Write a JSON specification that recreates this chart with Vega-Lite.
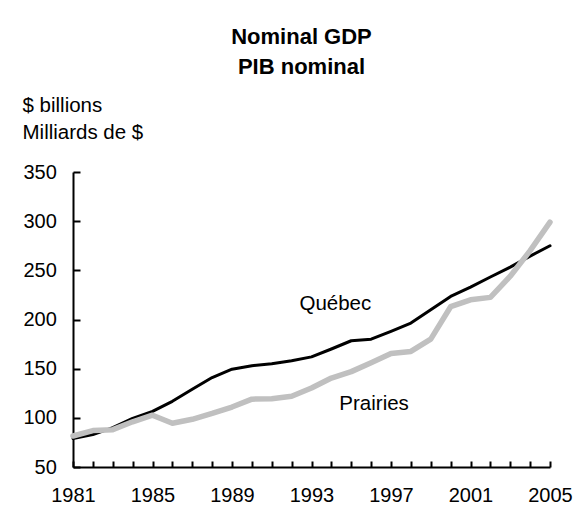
{
  "$schema": "https://vega.github.io/schema/vega-lite/v6.json",
  "width": 477,
  "height": 295,
  "autosize": {"type": "none"},
  "padding": {"left": 73, "top": 172, "right": 26, "bottom": 47},
  "background": "white",
  "config": {
    "view": {"stroke": null},
    "font": "Liberation Sans"
  },
  "title": {
    "text": ["Nominal GDP", "PIB nominal"],
    "font": "Liberation Sans",
    "fontSize": 22,
    "fontWeight": "bold",
    "lineHeight": 30,
    "anchor": "middle",
    "frame": "group",
    "dx": -10,
    "offset": 16,
    "color": "black"
  },
  "datasets": {
    "gdp": [
      {"year": 1981, "region": "Québec", "gdp": 79},
      {"year": 1982, "region": "Québec", "gdp": 83},
      {"year": 1983, "region": "Québec", "gdp": 90},
      {"year": 1984, "region": "Québec", "gdp": 99.5},
      {"year": 1985, "region": "Québec", "gdp": 106.5},
      {"year": 1986, "region": "Québec", "gdp": 116.8},
      {"year": 1987, "region": "Québec", "gdp": 129},
      {"year": 1988, "region": "Québec", "gdp": 141},
      {"year": 1989, "region": "Québec", "gdp": 149.5},
      {"year": 1990, "region": "Québec", "gdp": 153},
      {"year": 1991, "region": "Québec", "gdp": 155},
      {"year": 1992, "region": "Québec", "gdp": 158},
      {"year": 1993, "region": "Québec", "gdp": 162},
      {"year": 1994, "region": "Québec", "gdp": 170},
      {"year": 1995, "region": "Québec", "gdp": 178.4},
      {"year": 1996, "region": "Québec", "gdp": 180},
      {"year": 1997, "region": "Québec", "gdp": 188},
      {"year": 1998, "region": "Québec", "gdp": 196.4},
      {"year": 1999, "region": "Québec", "gdp": 210},
      {"year": 2000, "region": "Québec", "gdp": 223.5},
      {"year": 2001, "region": "Québec", "gdp": 233},
      {"year": 2002, "region": "Québec", "gdp": 243.2},
      {"year": 2003, "region": "Québec", "gdp": 253.3},
      {"year": 2004, "region": "Québec", "gdp": 264.5},
      {"year": 2005, "region": "Québec", "gdp": 275},
      {"year": 1981, "region": "Prairies", "gdp": 81.5},
      {"year": 1982, "region": "Prairies", "gdp": 87},
      {"year": 1983, "region": "Prairies", "gdp": 88},
      {"year": 1984, "region": "Prairies", "gdp": 96},
      {"year": 1985, "region": "Prairies", "gdp": 102.7},
      {"year": 1986, "region": "Prairies", "gdp": 94.5},
      {"year": 1987, "region": "Prairies", "gdp": 98.5},
      {"year": 1988, "region": "Prairies", "gdp": 104.5},
      {"year": 1989, "region": "Prairies", "gdp": 111},
      {"year": 1990, "region": "Prairies", "gdp": 119},
      {"year": 1991, "region": "Prairies", "gdp": 119.5},
      {"year": 1992, "region": "Prairies", "gdp": 122},
      {"year": 1993, "region": "Prairies", "gdp": 130.3},
      {"year": 1994, "region": "Prairies", "gdp": 140.5},
      {"year": 1995, "region": "Prairies", "gdp": 147},
      {"year": 1996, "region": "Prairies", "gdp": 156},
      {"year": 1997, "region": "Prairies", "gdp": 165.5},
      {"year": 1998, "region": "Prairies", "gdp": 167.5},
      {"year": 1999, "region": "Prairies", "gdp": 180},
      {"year": 2000, "region": "Prairies", "gdp": 213},
      {"year": 2001, "region": "Prairies", "gdp": 220},
      {"year": 2002, "region": "Prairies", "gdp": 222.5},
      {"year": 2003, "region": "Prairies", "gdp": 244},
      {"year": 2004, "region": "Prairies", "gdp": 270},
      {"year": 2005, "region": "Prairies", "gdp": 299}
    ],
    "labels": [
      {"year": 1994.2, "gdp": 210, "label": "Québec"},
      {"year": 1996.15, "gdp": 108.3, "label": "Prairies"}
    ]
  },
  "resolve": {"axis": {"x": "independent", "y": "independent"}},
  "layer": [
    {
      "data": {"name": "gdp"},
      "transform": [{"filter": "datum.region === 'Québec'"}],
      "mark": {"type": "line", "color": "black", "strokeWidth": 3, "strokeJoin": "round", "strokeCap": "round"},
      "encoding": {
        "x": {
          "field": "year",
          "type": "quantitative",
          "scale": {"domain": [1981, 2005], "nice": false, "zero": false},
          "axis": {
            "title": null,
            "grid": false,
            "ticks": false,
            "values": [1981, 1985, 1989, 1993, 1997, 2001, 2005],
            "format": "d",
            "labelOverlap": false,
            "labelFlush": false,
            "labelFont": "Liberation Sans",
            "labelFontSize": 20,
            "labelColor": "black",
            "labelPadding": 18.2,
            "domainColor": "black",
            "domainWidth": 2
          }
        },
        "y": {
          "field": "gdp",
          "type": "quantitative",
          "scale": {"domain": [50, 350], "nice": false, "zero": false},
          "axis": {
            "values": [50, 100, 150, 200, 250, 300, 350],
            "grid": false,
            "ticks": false,
            "title": ["$ billions", "Milliards de $"],
            "titleAngle": 0,
            "titleAlign": "left",
            "titleBaseline": "alphabetic",
            "titleX": -51,
            "titleY": -60.6,
            "titleFont": "Liberation Sans",
            "titleFontSize": 20.5,
            "titleFontWeight": "normal",
            "titleLineHeight": 26.7,
            "titleColor": "black",
            "labelFont": "Liberation Sans",
            "labelFontSize": 20,
            "labelColor": "black",
            "labelPadding": 16.7,
            "labelFlush": false,
            "domainColor": "black",
            "domainWidth": 2
          }
        }
      }
    },
    {
      "data": {"name": "gdp"},
      "transform": [{"filter": "datum.region === 'Prairies'"}],
      "mark": {"type": "line", "color": "#c0c0c0", "strokeWidth": 5.5, "strokeJoin": "round", "strokeCap": "round"},
      "encoding": {
        "x": {
          "field": "year",
          "type": "quantitative",
          "axis": {
            "orient": "top",
            "offset": -295,
            "title": null,
            "grid": false,
            "labels": false,
            "domain": false,
            "ticks": true,
            "values": [1981,1982,1983,1984,1985,1986,1987,1988,1989,1990,1991,1992,1993,1994,1995,1996,1997,1998,1999,2000,2001,2002,2003,2004,2005],
            "tickSize": 6,
            "tickWidth": 2,
            "tickColor": "black"
          }
        },
        "y": {
          "field": "gdp",
          "type": "quantitative",
          "axis": {
            "orient": "right",
            "offset": -477,
            "title": null,
            "grid": false,
            "labels": false,
            "domain": false,
            "ticks": true,
            "values": [50, 100, 150, 200, 250, 300, 350],
            "tickSize": 7,
            "tickWidth": 2,
            "tickColor": "black"
          }
        }
      }
    },
    {
      "data": {"name": "labels"},
      "mark": {"type": "text", "font": "Liberation Sans", "fontSize": 20.5, "color": "black", "align": "center", "baseline": "alphabetic"},
      "encoding": {
        "x": {"field": "year", "type": "quantitative", "axis": null},
        "y": {"field": "gdp", "type": "quantitative", "axis": null},
        "text": {"field": "label"}
      }
    }
  ]
}
